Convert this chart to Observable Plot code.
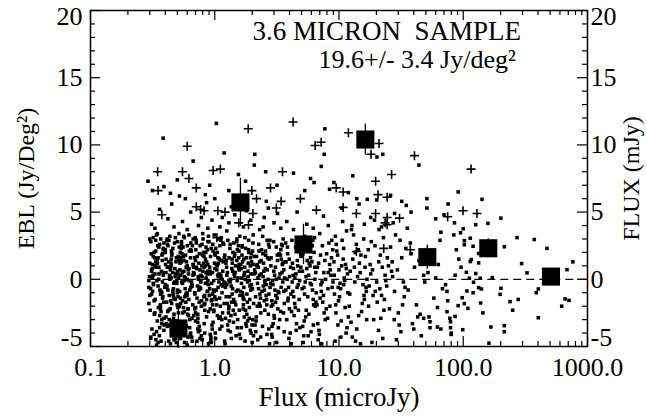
<!DOCTYPE html>
<html><head><meta charset="utf-8">
<script src="https://cdn.jsdelivr.net/npm/d3@7"></script>
<script src="https://cdn.jsdelivr.net/npm/@observablehq/plot@0.6"></script>
<style>body{margin:0;background:#fff}</style>
</head><body><div id="chart"></div>
<script>
// Small dots: [flux (microJy), EBL (Jy/deg^2)]
const dots = [
[.30,1.2],[.36,-3.6],[.33,.4],[.39,2.7],[.31,-1.1],[.35,-4.7],[.38,1.9],[.32,-.3],[.37,-2.4],[.34,3.3],
[.295,-1.8],[.355,.9],[.325,-4.1],[.385,2.2],[.305,-.7],[.345,1.5],[.375,-3],[.315,.1],[.365,-2],[.335,2.9],
[.34,-4.9],[.31,.6],[.38,-1.4],[.30,3],[.36,-2.7],[.33,1],[.295,-.1],[.39,-3.8],[.32,1.7],[.37,-.9],
[.355,2.4],[.305,-4.4],[.385,.3],[.325,-1.6],[.345,3.4],[.365,-2.2],[.315,.8],[.375,-3.3],[.335,1.3],[.35,-.5],
[.37,-4.6],[.325,2],[.30,-1.2],[.355,0],[.39,-2.9],[.315,1.1],[.34,-3.9],[.36,2.6],[.295,-.6],[.385,.5],
[.33,-2.5],[.35,1.6],[.305,-4.3],[.375,-1],[.32,3.1],[.38,-.2],[.345,-3.1],[.31,.7],[.365,-1.9],[.335,2.1],
[.302,-2.3],[.318,.3],[.332,-1.5],[.348,2.5],[.362,-.8],[.378,1.4],[.392,-3.4],[.308,1.9],[.322,-.4],[.338,.9],
[.352,-2.1],[.368,3],[.382,-1.3],[.298,.2],[.312,-3.7],[.328,1.6],[.342,-.1],[.358,-4.2],[.372,.6],[.388,-1.7],
[.306,2.8],[.326,-2.6],[.346,1.2],[.366,-1.1],[.386,2.3],[.316,-.9],[.336,-4.5],[.356,.4],[.376,1.8],[.396,-.6],
[.40,-.4],[.46,2.3],[.43,-3.4],[.51,1.4],[.41,-1.7],[.48,.2],[.44,-4.8],[.50,2.8],[.42,-.8],[.47,-2.6],
[.45,1.8],[.49,-4],[.405,.5],[.465,-1.3],[.435,3.2],[.505,-2.1],[.415,.9],[.485,-3.7],[.445,1.2],[.495,-.1],
[.47,-4.5],[.42,2.5],[.50,-1],[.44,.7],[.405,-2.8],[.49,1.6],[.41,-.6],[.465,-3.2],[.515,3.4],[.435,0],
[.48,-1.5],[.40,2],[.455,-4.2],[.505,.4],[.425,-2.3],[.445,1],[.495,-.3],[.415,-3.5],[.475,2.7],[.43,-1.2],
[.44,.8],[.49,-4.7],[.405,1.5],[.46,-.9],[.52,-2],[.415,3],[.475,-.2],[.43,-3],[.50,.6],[.45,-1.8],
[.40,2.2],[.485,-4.4],[.425,1.3],[.51,-2.5],[.445,.1],[.47,-1.4],[.41,2.9],[.495,-3.9],[.435,.3],[.465,-.7],
[.402,1.1],[.418,-2.4],[.432,.2],[.448,2.1],[.462,-1.1],[.478,.8],[.492,-3.1],[.508,1.7],[.412,-.5],[.428,2.9],
[.442,-1.6],[.458,.5],[.472,-4.1],[.488,1.3],[.502,-.8],[.518,2.4],[.408,-3.3],[.422,.9],[.438,-2.2],[.452,1.9],
[.468,-.3],[.482,3.1],[.498,-1.9],[.512,.1],[.426,-4.6],[.446,1.5],[.466,-2.9],[.486,.4],[.506,-1.3],[.416,2.6],
[.53,.3],[.61,-2.2],[.56,1.7],[.66,-4.6],[.54,2.6],[.63,-.8],[.58,-3.3],[.67,1.1],[.55,-1.6],[.60,0],
[.57,3.1],[.64,-4],[.525,.7],[.615,-2.7],[.565,1.4],[.655,-.4],[.545,-3.8],[.625,2.1],[.585,-1.1],[.675,.5],
[.60,-4.9],[.545,1.9],[.65,-.2],[.57,-2.4],[.62,3.3],[.53,-1.4],[.675,.9],[.59,-3.5],[.555,2.4],[.64,-.6],
[.525,1.2],[.61,-4.3],[.58,.1],[.665,-1.9],[.54,2.8],[.63,-3],[.565,.6],[.60,-1],[.535,1.6],[.655,-2.9],
[.57,-.1],[.64,2.2],[.53,-4.4],[.62,.8],[.585,-1.7],[.67,3],[.545,-3.6],[.60,1],[.655,-.5],[.56,-2.1],
[.615,.4],[.525,1.5],[.635,-4.1],[.575,-1.3],[.66,2.5],[.55,-.3],[.605,-2.6],[.54,1.3],
[.522,-.9],[.538,2.3],[.552,-2.5],[.568,.2],[.582,1.8],[.598,-1.2],[.612,.7],[.628,-3.6],[.642,2.7],[.658,-.5],
[.672,1.1],[.532,-1.8],[.548,.5],[.562,3.2],[.578,-.7],[.592,1.3],[.608,-2.2],[.622,-.1],[.638,1.6],[.652,-4.3],
[.668,.3],[.528,2],[.558,-3.2],[.588,.9],[.618,-1.5],[.648,2.1],[.678,-2.7],[.542,-.2],[.572,-4.7],[.602,2.5],
[.69,-1],[.80,1.8],[.74,-3.9],[.88,.6],[.71,2.9],[.83,-2.3],[.77,-.2],[.86,1.3],[.72,-4.6],[.79,.2],
[.75,-1.7],[.85,2.4],[.70,-3.1],[.82,.9],[.76,-.6],[.89,3.2],[.73,-2.6],[.84,1],[.78,-4.2],[.87,-.9],
[.81,2],[.72,-1.4],[.87,.4],[.75,-3.5],[.69,1.6],[.84,-.3],[.78,-2],[.71,2.7],[.89,-4.8],[.76,.7],
[.83,-1.2],[.70,1.4],[.86,-2.8],[.74,0],[.80,3.4],[.73,-3.7],[.88,1.1],[.77,-.7],[.82,-1.9],[.705,2.2],
[.76,-4.4],[.85,.5],[.70,-2.5],[.82,1.7],[.88,-.1],[.73,-3.2],[.79,2.6],[.86,-1.5],[.715,.8],[.83,-4],
[.745,1.2],[.89,-.4],[.69,-2.2],[.805,3],[.775,.3],
[.682,.4],[.702,-2.1],[.722,1.7],[.742,-.8],[.762,2.5],[.782,-1.6],[.802,.6],[.822,-3.3],[.842,1.5],[.862,-.3],
[.882,2.8],[.692,-1.1],[.712,.9],[.732,-2.9],[.752,1.9],[.772,-.1],[.792,-4.5],[.812,1.2],[.832,-1.8],[.852,.1],
[.872,2.2],[.892,-2.4],[.697,3.1],[.727,-.5],[.757,-3.8],[.787,1],[.817,-1.3],[.847,2],[.877,-.9],[.737,.2],
[.91,.9],[1.05,-2.7],[.97,2.1],[1.16,-.5],[.93,-4.5],[1.09,1.5],[1,-1.3],[1.13,3.1],[.95,-3.4],[1.07,.2],
[.99,-.9],[1.18,2.6],[.92,-4.1],[1.03,1.1],[1.11,-2],[.96,.5],[1.14,-3],[1.01,1.8],[.94,-1.6],[1.08,-.2],
[1.12,2.9],[.94,-4.7],[1.04,.7],[.98,-2.4],[1.17,1.3],[.91,-.7],[1.1,-3.7],[1.02,2.3],[.96,-1.1],[1.15,0],
[.93,-4.3],[1.06,1.6],[1.19,-1.8],[.99,3.3],[1.08,-2.9],[.92,.4],[1.13,-.4],[1,1.9],[.97,-3.2],[1.05,1],
[.95,-1.5],[1.1,2.5],[1.01,-4],[1.16,.6],[.92,-2.2],[1.07,1.2],[.98,-.1],[1.14,-3.5],[.9,2.8],[1.03,-.8],
[1.12,.3],[.96,-1.9],
[.905,-1.2],[.925,1.7],[.945,-.3],[.965,2.6],[.985,-2.3],[1.005,.8],[1.025,-1.5],[1.045,2],[1.065,-.6],[1.085,.4],
[1.105,-2.8],[1.125,1.4],[1.145,-1],[1.165,2.7],[1.185,-.2],[.915,.6],[.955,-3.7],[.995,1.2],[1.035,-1.9],[1.075,3],
[1.115,.1],[1.155,-2.5],[1.195,1.6],[.935,2.3],[.975,-.8],[1.015,-4.4],[1.055,.3],[1.095,-1.4],
[1.22,-.6],[1.45,1.9],[1.31,-3.1],[1.57,.7],[1.26,-1.8],[1.5,2.8],[1.36,-4.4],[1.54,.1],[1.24,1.4],[1.41,-2.3],
[1.33,-.2],[1.59,3.2],[1.28,-3.8],[1.47,1],[1.38,-1.1],[1.52,2.2],[1.21,-4.8],[1.43,.4],[1.35,-2.7],[1.56,1.6],
[1.49,-.9],[1.27,-3.4],[1.55,2.5],[1.34,0],[1.42,-1.5],[1.23,1.2],[1.58,-4.1],[1.37,.8],[1.3,-2],[1.51,3],
[1.25,-.4],[1.44,1.7],[1.53,-3],[1.32,-1.3],[1.4,2],[1.2,-4.6],[1.46,.5],[1.29,-2.5],[1.57,1.1],[1.39,-.7],
[1.33,2.6],[1.52,-3.6],[1.25,.3],[1.45,-1.7],[1.38,1.5],[1.22,-2.9],[1.56,.9],[1.3,-.1],
[1.205,1.8],[1.235,-1.3],[1.265,.5],[1.295,-2.2],[1.325,2.3],[1.355,-.5],[1.385,1.2],[1.415,-3.2],[1.445,.2],[1.475,-1.9],
[1.505,1.4],[1.535,-.8],[1.565,2.1],[1.595,-1.2],[1.215,-.3],[1.275,2.9],[1.335,-3.9],[1.395,.6],[1.455,-2.6],[1.515,-.1],
[1.575,-2.3],[1.245,.9],[1.305,1.6],[1.365,-1.7],[1.425,2.7],[1.485,-4.2],
[1.62,1.1],[1.9,-2.1],[1.72,.3],[2.05,-4.2],[1.66,2.4],[1.95,-.8],[1.78,-3.3],[2.08,1.7],[1.69,-1.4],[1.85,.6],
[1.75,3.1],[2,-4.7],[1.64,-.3],[1.88,2],[1.81,-2.6],[1.98,1.3],[1.67,-1],[1.93,-3.8],[1.74,.9],[2.03,2.7],
[1.83,-1.7],[1.65,.1],[2.02,-3],[1.71,1.5],[1.92,-.5],[1.61,-4.4],[1.87,2.2],[1.77,-2.3],[2.07,.4],[1.68,-1.2],
[1.97,1.9],[1.8,-3.5],[1.63,.8],[1.9,-.1],[1.73,-2.8],[2.04,3.3],[1.7,-1.9],[1.86,1.2],[1.96,-4],[1.76,0],
[2.01,-.7],[1.66,2.5],[1.84,-3.1],[1.94,1.6],[1.72,-1.5],
[1.615,-.9],[1.655,1.8],[1.695,-2.2],[1.735,.5],[1.775,2.3],[1.815,-1.1],[1.855,.2],[1.895,-2.9],[1.935,1],[1.975,-.4],
[2.015,2.1],[2.055,-1.8],[2.095,.7],[1.635,-3.6],[1.675,1.3],[1.715,-.6],[1.755,-4.6],[1.795,1.6],[1.835,-.2],[1.875,2.9],
[1.915,-1.5],[1.955,.4],[1.995,-3.4],[2.035,1.1],
[2.12,.5],[2.5,-1.6],[2.27,2.1],[2.72,-3.7],[2.18,1],[2.6,-.4],[2.35,-2.5],[2.78,2.9],[2.22,-4.5],[2.45,.2],
[2.31,-1.1],[2.66,1.6],[2.15,-3.1],[2.55,.8],[2.4,-.9],[2.75,2.4],[2.2,-2],[2.63,-4.1],[2.3,1.3],[2.52,-.2],
[2.43,3.2],[2.16,-2.8],[2.69,0],[2.33,-1.4],[2.57,1.8],[2.11,-3.4],[2.48,.6],[2.25,-.7],[2.76,-4.8],[2.38,2.2],
[2.62,-1.9],[2.19,1.1],[2.53,-2.3],[2.29,.3],[2.71,2.6],[2.14,-3.9],[2.46,-.5],[2.36,1.4],[2.59,-1.2],[2.24,.9],
[2.13,-1.3],[2.17,1.7],[2.21,-.3],[2.26,2.6],[2.32,-2],[2.37,.4],[2.42,-3.5],[2.47,1.2],[2.51,-.8],[2.56,2.1],
[2.61,-1.5],[2.65,.7],[2.7,-2.6],[2.74,1.5],[2.79,-.6],[2.23,.1],[2.34,-4.3],[2.44,1.9],[2.54,-.1],[2.64,2.9],
[2.73,-1.1],[2.28,-1.8],
[2.82,-.3],[3.3,1.9],[3,-2.7],[3.6,.7],[2.9,-4.3],[3.45,2.6],[3.1,-1.2],[3.65,.1],[2.95,-3.3],[3.2,1.4],
[3.05,-.8],[3.55,3],[2.85,-2],[3.35,.4],[3.15,-4.7],[3.5,1.1],[2.88,-1.6],[3.25,-3.6],[3.4,2.2],[2.92,-.1],
[3.58,-2.5],[3.08,.9],[3.28,-1],[2.84,1.6],[3.62,-3.9],[3.12,0],[3.42,-.6],[2.98,2.8],[3.22,-2.2],[3.52,1.2],
[2.87,-4.1],[3.18,-1.4],[3.48,.5],[3.02,-2.9],[3.38,1.8],[2.94,-.4],
[2.83,1],[2.93,-1.9],[3.03,.3],[3.13,2.4],[3.23,-.9],[3.33,-3],[3.43,1.5],[3.53,-.2],[3.63,-1.8],[2.89,-3.5],
[2.99,.6],[3.09,-1.7],[3.19,1.8],[3.29,.1],[3.39,-2.4],[3.49,2.5],[3.59,-.9],[3.68,1.3],
[3.75,1.3],[4.4,-1.8],[4,.2],[4.85,-3.6],[3.85,2.4],[4.6,-.6],[4.15,-2.4],[4.95,1.7],[3.95,-4.4],[4.3,.8],
[4.1,-1.1],[4.75,3.1],[3.8,-3],[4.5,.4],[4.2,-.2],[4.9,2],[4.05,-4],[4.65,1],[3.9,-1.4],[4.35,-2.7],
[4.8,.6],[3.72,2.7],[4.25,-.9],[4.55,-3.3],[3.98,1.5],[4.7,-.4],[4.12,-4.8],[3.82,0],[4.45,-2.1],[4.92,1.9],
[3.88,-1.6],[4.28,.3],
[3.73,-.8],[3.86,1.9],[3.99,-2.2],[4.08,.9],[4.18,2.9],[4.32,-1.3],[4.42,.1],[4.52,-3.8],[4.62,1.4],[4.72,-2.3],
[4.82,-.1],[4.93,.9],[3.93,-.6],[4.22,1.2],[4.48,2.4],[4.78,-1.5],
[5.05,-.7],[5.9,1.6],[5.4,-2.8],[6.5,.5],[5.2,-4.2],[6.1,2.5],[5.6,-1.3],[6.4,0],[5.1,-3.5],[5.75,1.2],
[5.3,3.2],[6.25,-1.9],[5.5,.8],[6,-.4],[5.15,-4.7],[6.3,2],[5.45,-2.3],[5.85,1],[6.55,-1],[5.25,-3.1],
[5.7,.3],[6.15,2.9],[5.35,-.2],[6.45,-2],[5.55,1.4],[5.95,-3.9],[5.08,.6],[6.2,-1.5],
[5.12,1.9],[5.28,-1.1],[5.42,.2],[5.58,2.3],[5.72,-2.6],[5.88,-.3],[6.05,1.3],[6.22,-3.4],[6.38,.9],[6.52,-1.7],
[5.22,-.6],[5.65,-4.2],[6.12,-.8],[6.35,3.1],
[6.7,.9],[7.9,-2.2],[7.1,1.8],[8.8,-.6],[6.9,-3.8],[8.3,2.7],[7.5,-1.2],[8.6,.3],[6.8,-4.5],[7.7,1.4],
[7.3,-.2],[8.1,-2.9],[7,3.4],[8.5,.7],[7.4,-1.7],[8.9,2.2],[6.75,-3.3],[7.8,0],[7.2,-.9],[8.4,1.1],
[6.95,-4.1],[7.6,-2.5],[8.7,1.6],[7.05,-1.4],[8.2,.5],
[6.65,-1.9],[6.85,1.2],[7.15,-.4],[7.35,2.5],[7.55,.5],[7.75,-3],[7.95,1.9],[8.15,-.7],[8.45,-2],[8.75,2.9],[8.95,-.2],[7.25,-4.8],
[9.2,-1.1],[10.8,1.5],[9.8,-3.4],[11.7,.4],[9.5,2.6],[11.2,-2.1],[10.2,-.3],[11.5,3.6],[9.3,-4.6],[10.5,1],
[9.9,-1.6],[11,.1],[9.6,2.1],[11.9,-2.8],[10.3,-.7],[9.1,1.3],[11.4,-4],[10,.7],[10.7,4.3],[9.4,-1.9],
[11.1,-.1],[10.4,-3.1],
[9.15,.3],[9.45,-2.5],[9.75,1.8],[10.1,-1.3],[10.6,2.9],[10.9,-.4],[11.3,1.1],[11.6,-3.6],[11.8,-1],[9.35,3.2],
[9.85,-.6],[10.35,-4.3],[10.9,2.3],[11.45,.8],
[12.3,.6],[15.2,-2.4],[13.5,2],[16.6,-.9],[12.8,-4.3],[14.6,1.2],[13.1,3.3],[16,-1.5],[12.5,-3.2],[14.1,.2],
[15.6,-.4],[13.8,2.6],[12.1,-2],[16.3,1.7],[14.9,-4.8],[13.3,.9],[15.9,-1.2],[12.7,4],[14.4,-2.7],[16.8,0],
[12.2,-1.1],[12.9,1.5],[13.4,-.2],[13.9,-3.7],[14.3,2.2],[14.8,.5],[15.4,-1.8],[15.8,3],[16.2,.9],[16.7,-3],
[12.6,3.7],[13.6,-4.6],[15,1.8],[16.5,-.6],
[17.5,-.5],[21.5,1.8],[19,-3],[23.5,.3],[18.2,2.8],[20.3,-1.7],[22.5,-4.4],[17.8,1.1],[19.6,-.9],[21,3.7],
[23,-2.3],[18.6,.7],[20.8,-3.8],[17.2,2.2],[22,-1.2],[19.3,4.4],[23.8,-.1],
[17.3,-2],[18,.4],[18.8,-1.2],[19.5,2.5],[20.1,-.2],[20.9,1.3],[21.7,-2.9],[22.3,.9],[23.2,-1.5],[18.4,-4.7],
[21.3,-.7],[22.8,3.1],
[25,1],[30,-2.5],[27,.2],[33.5,-1.3],[26,2.4],[31.5,-3.9],[28.5,3.3],[34,-.6],[24.5,1.6],[29,-4.5],
[32.5,-1.9],[26.5,.6],[31,2.9],[27.8,-3],
[24.2,-.5],[25.5,-2.2],[26.8,1.3],[28,-.9],[29.5,.7],[30.5,-3.4],[32,1.6],[33,-.2],[34.5,2.3],[27.3,4.2],
[36,-.8],[44,1.4],[39,-3.3],[48,.3],[37.5,2.7],[42,-1.9],[46,-4.2],[40.5,.9],[35.5,3.8],[45,-2.6],[38,1.9],[49,-.2],
[52,.5],[62,-2.1],[56,1.8],[68,-.7],[54,-3.6],[65,2.9],[58,-1.4],[60,.1],[66,3.5],[53,-2.8],[63,1.1],
[72,-.4],[88,2.2],[78,-2.9],[96,.9],[75,-1.6],[84,3.3],[80,-4.1],[92,1.5],[74,-.9],[86,.3],
[201,4.55],[158,4.16],[271,3.1],[373,2.96],[214,2.42],[472,2.3],[763,1.3],[295,1.17],[326,.48],[684,.72],
[171,.13],[137,.08],[201,-.67],[198,-1.12],[402,-.72],[387,-1],[277,-1.5],[238,-1.66],[660,-1.46],[710,-1.57],
[620,-2],[402,-2.86],[250,-2.3],[214,-3.45],[214,-3.9],[167,-3.55],[161,-4.75],[144,-2.5],[138,-1.76],[140,-.72],
[120,-1],[133,-.62],[121,-.22],[126,.43],[133,1.22],[133,1.92],[116,1.47],[120,2.46],[102,2.57],[95,3.46],
[102,2.87],[114,3.06],[126,4.06],[100,3.76],[114,1.32],[106,.52],[112,.08],[107,-.87],[98,-1.37],[102,-1.81],
[109,-2.16],[91,-1.96],[86,-2.76],[79,-3.16],[74,-2.41],[99,-3.75],[66,-3.7],[79,-3.6],[80,-4],[62,-3.55],
[54,-3.16],[48,-2.9],[43,-2.8],[40,-3.7],
[1.03,11.6],[.384,10.5],[1.19,9.4],[2.1,9.3],[.67,8.8],[2.08,8.5],[1.55,7.8],[1.77,7.3],[.29,7.3],[.91,7],
[.52,6.2],[.84,6.3],[.315,6.6],[7.7,11.2],[7.6,9.3],[7.2,8.4],[22.5,9.3],[20.2,9.1],[2.57,8],[4.3,7.9],
[5.9,7.5],[6.3,7.2],[12.9,7.7],[9.1,7.2],[3.17,7],[5.3,6.6],[8.4,6.7],[11.9,6.45],[13.9,6],[34.8,5.5],
[20.1,5.9],[16.9,5.95],[26,6.25],[44,8.5],[91,6.5],[141.6,5.95],[51,6],[75.5,5.6],[51,5.3],[38,5],
[.31,4.1],[.36,5.2],[.33,3.8],[.42,4.5],[.47,3.9],[.45,5.6],[.55,4.3],[.6,3.7],[.64,5],[.58,6],
[.74,4],[.78,4.6],[.88,3.8],[.95,4.4],[.86,5.7],[1.1,3.9],[1.15,4.6],[1.3,4.2],[1.36,5.4],[1.25,3.6],
[1.45,4.8],[1.7,3.9],[1.95,4.4],[1.8,5.1],[2.3,3.7],[2.5,4.6],[2.7,5.3],[2.45,3.9],[3,4.2],[3.4,3.8],
[3.2,4.9],[3.8,4.3],[4.3,3.7],[4.6,5],[5.5,4.1],[6.2,3.8],[7.5,4.7],[8.2,4],[.39,6.9],[.5,7.4],
[.44,6.4],[1,6],[1.3,6.6],[1.5,5.9],[2.6,5.8],[10.5,5.3],[14.5,5.6],[18,4.6],[28,4.9],[32,5.8],
[60,4.5],[70,4.8],[85,4.2],[16,4.1],[22,3.9]
];

// Crosses (+): [flux, EBL]
const crosses = [
[1.86,11.2],[.6,9.9],[.347,8],[.55,8],[.62,7.5],[.97,8.1],[1.11,8.2],[.35,6.6],[.71,6.8],[.71,5.4],
[.82,5.1],[.375,4.8],[1.06,5.1],[1.21,5],[1.99,6.6],[2.17,6],[2.03,4.9],[4.27,11.7],[11.9,10.9],[7.18,10.2],
[6.43,9.95],[21,10.1],[18.1,9.3],[40.5,9.2],[26.5,7.8],[3.51,8],[19.7,7.3],[2.81,6.8],[9.5,6.8],[10.8,6.5],
[20.6,6.3],[24.4,6.1],[4.89,6],[3.42,5.8],[3.13,5.3],[6.58,5.15],[10.8,5.35],[13.8,4.9],[19.7,4.9],[24.4,4.6],
[30.7,4.55],[115.6,8.2],[74.9,4.65],[99.6,5.1],[129,4.9],[1.56,4.2],[1.87,4.05],[1.04,3.1],[24.4,4.06],[37.5,2.2],
[13.8,2.07],[22.9,2.3],[23.5,4.2],[.77,5.2]
];

// Binned averages (large squares) with error bars
const squareFlux = [0.51, 1.61, 5.18, 16.3, 51.4, 159, 508];
const squareEbl  = [-3.66, 5.72, 2.59, 10.4, 1.65, 2.31, 0.2];
const squareErr  = [1.5, 1.8, 1.5, 1.15, 0.9, 0.7, 0.4];

const xMajor = [0.1, 1, 10, 100, 1000];
const xLabels = ["0.1", "1.0", "10.0", "100.0", "1000.0"];
const xMinor = [0.2,0.3,0.4,0.5,0.6,0.7,0.8,0.9,2,3,4,5,6,7,8,9,20,30,40,50,60,70,80,90,200,300,400,500,600,700,800,900];
const yMajor = [-5, 0, 5, 10, 15, 20];
const yMinor = [-4,-3,-2,-1,1,2,3,4,6,7,8,9,11,12,13,14,16,17,18,19];
const zeroLine = [0.3, 1000];

const squares = squareFlux.map((f, i) => ({flux: f, ebl: squareEbl[i], err: squareErr[i]}));

const W = 647, H = 418, mL = 90, mR = 60, mT = 10, mB = 72;
const iW = W - mL - mR, iH = H - mT - mB;
const FONT = "Liberation Serif";
const FS = 26;
const plus = {draw(ctx, size) { const r = Math.sqrt(size / Math.PI); ctx.moveTo(-r, 0); ctx.lineTo(r, 0); ctx.moveTo(0, -r); ctx.lineTo(0, r); }};

const yMid = yMajor.filter(v => v > -5 && v < 20);
const yLow = [-5], yHigh = [20];
const T = {fill: "black", stroke: "none"};

const chart = Plot.plot({
  width: W, height: H,
  marginLeft: mL, marginRight: mR, marginTop: mT, marginBottom: mB,
  x: {type: "log", domain: [0.1, 1000], axis: null},
  y: {domain: [-5, 20], axis: null},
  style: {fontFamily: FONT, fontSize: FS + "px", background: "white", color: "black"},
  marks: [
    Plot.ruleY([0], {x1: zeroLine[0], x2: zeroLine[1], stroke: "black", strokeWidth: 1.3, strokeDasharray: "8,5"}),
    Plot.dot(dots, {x: d => d[0], y: d => d[1], symbol: "square", r: 2.0, fill: "black", stroke: "none"}),
    Plot.dot(crosses, {x: d => d[0], y: d => d[1], symbol: plus, r: 4.5, stroke: "black", strokeWidth: 1.6, fill: "none"}),
    Plot.ruleX(squares, {x: "flux", y1: d => d.ebl - d.err, y2: d => d.ebl + d.err, stroke: "black", strokeWidth: 1.3}),
    Plot.dot(squares, {x: "flux", y: "ebl", symbol: "square", r: 10.2, fill: "black", stroke: "none"}),
    Plot.frame({stroke: "black", strokeWidth: 1.5}),
    Plot.tickX(xMajor, {x: d => d, insetTop: iH - 10, strokeWidth: 1.2}),
    Plot.tickX(xMajor, {x: d => d, insetBottom: iH - 10, strokeWidth: 1.2}),
    Plot.tickX(xMinor, {x: d => d, insetTop: iH - 5, strokeWidth: 1.2}),
    Plot.tickX(xMinor, {x: d => d, insetBottom: iH - 5, strokeWidth: 1.2}),
    Plot.tickY(yMajor, {y: d => d, insetRight: iW - 10, strokeWidth: 1.2}),
    Plot.tickY(yMajor, {y: d => d, insetLeft: iW - 10, strokeWidth: 1.2}),
    Plot.tickY(yMinor, {y: d => d, insetRight: iW - 5, strokeWidth: 1.2}),
    Plot.tickY(yMinor, {y: d => d, insetLeft: iW - 5, strokeWidth: 1.2}),
    Plot.text(xMajor, {...T, x: d => d, text: (d, i) => xLabels[i], frameAnchor: "bottom", textAnchor: "middle", lineAnchor: "top", dy: 11, fontSize: FS}),
    Plot.text(yMid, {...T, y: d => d, text: d => String(d), frameAnchor: "left", textAnchor: "end", dx: -8, fontSize: FS}),
    Plot.text(yLow, {...T, y: d => d, text: d => String(d), frameAnchor: "left", textAnchor: "end", dx: -8, dy: -9, fontSize: FS}),
    Plot.text(yHigh, {...T, y: d => d, text: d => String(d), frameAnchor: "left", textAnchor: "end", dx: -8, dy: 6, fontSize: FS}),
    Plot.text(yMid, {...T, y: d => d, text: d => String(d), frameAnchor: "right", textAnchor: "start", dx: 3, fontSize: FS}),
    Plot.text(yLow, {...T, y: d => d, text: d => String(d), frameAnchor: "right", textAnchor: "start", dx: 3, dy: -9, fontSize: FS}),
    Plot.text(yHigh, {...T, y: d => d, text: d => String(d), frameAnchor: "right", textAnchor: "start", dx: 3, dy: 6, fontSize: FS}),
    Plot.text(["Flux (microJy)"], {...T, text: d => d, frameAnchor: "bottom", textAnchor: "middle", dy: 59, fontSize: 27}),
    Plot.text(["EBL (Jy/Deg²)"], {...T, text: d => d, frameAnchor: "left", textAnchor: "middle", dx: -64, rotate: -90, fontSize: 24}),
    Plot.text(["FLUX (mJy)"], {...T, text: d => d, frameAnchor: "right", textAnchor: "middle", dx: 44, rotate: -90, fontSize: 24}),
    Plot.text(["3.6 MICRON\u00a0 SAMPLE"], {...T, text: d => d, frameAnchor: "top-left", textAnchor: "start", lineAnchor: "top", dx: 162, dy: 10, fontSize: 27}),
    Plot.text(["19.6+/- 3.4 Jy/deg²"], {...T, text: d => d, frameAnchor: "top-left", textAnchor: "start", lineAnchor: "top", dx: 228, dy: 39, fontSize: FS})
  ]
});
document.getElementById("chart").appendChild(chart);
</script>
</body></html>
